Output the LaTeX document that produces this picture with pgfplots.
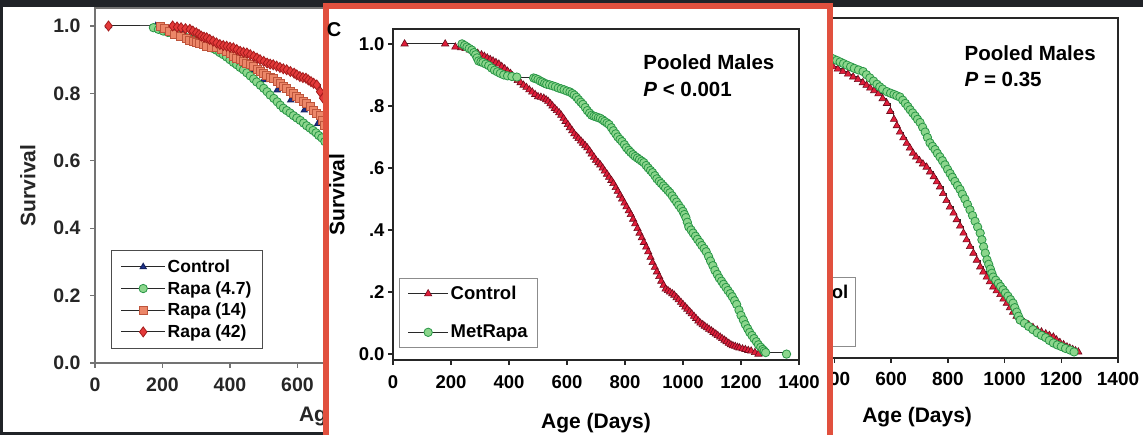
\documentclass[border=0pt]{standalone}
\usepackage{fontspec}
\setmainfont{Liberation Sans}
\usepackage{pgfplots}
\pgfplotsset{compat=1.18}
\definecolor{bgdark}{RGB}{32,35,40}
\definecolor{frameRed}{RGB}{225,80,62}
\definecolor{ctrlRed}{RGB}{225,30,58}
\definecolor{ctrlRedEdge}{RGB}{110,12,28}
\definecolor{grnFill}{RGB}{140,214,140}
\definecolor{grnEdge}{RGB}{40,150,70}
\definecolor{rA}{RGB}{228,58,58}
\definecolor{rAe}{RGB}{165,28,28}
\definecolor{rB}{RGB}{236,135,105}
\definecolor{rBe}{RGB}{190,85,60}
\definecolor{navy}{RGB}{30,50,140}
\definecolor{lineGray}{RGB}{40,40,40}

\pgfplotsset{
  kmbase/.style={
    scale only axis, anchor=south west,
    xmin=0, xmax=1400,
    axis line style={line width=1.5pt, draw=black!85},
    tick pos=left, tick align=outside,
    major tick length=5pt,
    major tick style={line width=1.5pt, draw=black!85},
    xtick={0,200,400,600,800,1000,1200,1400},
    xticklabels={0,200,400,600,800,1000,1200,1400},
    ytick={0,0.2,0.4,0.6,0.8,1},
    legend cell align=left,
    legend image code/.code={\draw[mark repeat=2,mark phase=2,##1] plot coordinates {(0pt,0pt) (20pt,0pt) (40pt,0pt)};},
  },
  ctrl/.style={const plot, line width=1pt, draw=lineGray, mark=triangle*, mark size=4.2pt, mark options={fill=ctrlRed, draw=ctrlRedEdge, line width=0.6pt, solid}},
  metr/.style={const plot, line width=1pt, draw=lineGray, mark=*, mark size=4.2pt, mark options={fill=grnFill, draw=grnEdge, line width=0.8pt, solid}},
}

\begin{document}
\begin{tikzpicture}
\useasboundingbox (0pt,0pt) rectangle (1143pt,435pt);
\fill[bgdark] (0pt,0pt) rectangle (1143pt,435pt);
\fill[white] (3pt,3pt) rectangle (326pt,428pt);
\fill[white] (830pt,0pt) rectangle (1143pt,428pt);

% ---------------- right panel (mostly hidden on the left) ----------------
\begin{axis}[kmbase, at={(721pt,77pt)}, width=397pt, height=340pt,
  ymin=-0.019, ymax=1.048,
  xticklabels={,,400,600,800,1000,1200,1400},
  yticklabels={,,,,,},
  tick label style={font=\fontsize{19}{19}\selectfont\bfseries},
  xticklabel style={yshift=-6pt},
  xlabel={Age (Days)},
  xlabel style={font=\fontsize{21}{21}\selectfont\bfseries, at={(axis description cs:0.494,-0.174)}, anchor=center},
  legend style={at={(axis description cs:0.34,0.032)}, anchor=south east, draw=black!45, line width=1.3pt, fill=white,
    font=\fontsize{18.5}{19}\selectfont\bfseries, row sep=20pt, inner xsep=5pt, inner ysep=6pt},
]
\addplot[ctrl] coordinates {
(300,0.93) (315,0.925) (330,0.92) (345,0.915) (360,0.91) (378,0.903) (395,0.895) (412,0.888) (430,0.88) (448,0.872)
(466,0.863) (483,0.855) (500,0.845) (513,0.837) (526,0.828) (540,0.82) (555,0.81) (570,0.795) (585,0.78) (597,0.755)
(610,0.73) (620,0.71) (631,0.69) (643,0.672) (655,0.655) (666,0.64) (677,0.624) (688,0.612) (700,0.6) (712,0.59)
(725,0.58) (737,0.565) (750,0.55) (761,0.534) (772,0.518) (783,0.497) (795,0.475) (807,0.455) (820,0.436) (831,0.415)
(843,0.395) (855,0.373) (866,0.352) (878,0.331) (890,0.31) (902,0.288) (914,0.267) (925,0.251) (937,0.235) (948,0.22)
(960,0.204) (972,0.192) (985,0.18) (996,0.166) (1008,0.153) (1019,0.139) (1030,0.125) (1042,0.112) (1055,0.1) (1070,0.092)
(1085,0.085) (1100,0.077) (1115,0.069) (1130,0.063) (1145,0.057) (1158,0.052) (1172,0.047) (1183,0.038) (1195,0.03) (1208,0.023)
(1220,0.016) (1230,0.012) (1240,0.008) (1250,0.004) (1260,0.0)};
\addlegendentry{Control}
\addplot[metr] coordinates {
(300,0.95) (315,0.945) (330,0.94) (345,0.935) (360,0.93) (378,0.925) (395,0.92) (408,0.915) (420,0.91) (432,0.905)
(444,0.9) (457,0.895) (470,0.89) (485,0.885) (501,0.88) (513,0.87) (525,0.86) (538,0.85) (550,0.84) (560,0.832)
(570,0.825) (585,0.817) (598,0.812) (610,0.808) (620,0.804) (631,0.8) (641,0.79) (650,0.78) (659,0.77) (667,0.76)
(676,0.75) (685,0.74) (693,0.73) (702,0.72) (711,0.705) (720,0.69) (728,0.673) (737,0.656) (746,0.645) (755,0.635)
(763,0.623) (772,0.612) (781,0.6) (790,0.587) (799,0.573) (808,0.56) (816,0.548) (825,0.535) (834,0.522) (843,0.51)
(851,0.495) (860,0.48) (869,0.463) (878,0.446) (887,0.428) (896,0.41) (905,0.392) (914,0.373) (920,0.352) (926,0.33)
(932,0.31) (938,0.289) (944,0.275) (950,0.26) (955,0.247) (960,0.235) (969,0.225) (978,0.215) (986,0.205) (995,0.195)
(1003,0.185) (1012,0.175) (1021,0.164) (1030,0.153) (1036,0.139) (1043,0.125) (1049,0.112) (1055,0.1) (1070,0.09) (1085,0.08)
(1100,0.07) (1115,0.06) (1130,0.052) (1145,0.045) (1158,0.036) (1172,0.028) (1186,0.022) (1200,0.017) (1215,0.011) (1231,0.006)
(1245,0.0)};
\addlegendentry{Met}
\node[anchor=west, font=\fontsize{20.5}{21}\selectfont\bfseries] at (axis description cs:0.605,0.897) {Pooled Males};
\node[anchor=west, font=\fontsize{20.5}{21}\selectfont\bfseries] at (axis description cs:0.605,0.818) {\itshape P\upshape{} = 0.35};
\end{axis}

% ---------------- left panel ----------------
\begin{axis}[kmbase, at={(95pt,72pt)}, width=472.5pt, height=355pt,
  ymin=0, ymax=1.0534,
  axis line style={line width=1.3pt, draw=black!55},
  major tick style={line width=1.3pt, draw=black!55},
  xticklabels={0,200,400,600,,,,},
  yticklabels={0.0,0.2,0.4,0.6,0.8,1.0},
  tick label style={font=\fontsize{19.5}{20}\selectfont\bfseries, text=black!85},
  xticklabel style={yshift=-6pt},
  yticklabel style={xshift=-6pt},
  ylabel={Survival},
  ylabel style={font=\fontsize{21}{21}\selectfont\bfseries, text=black!85, at={(axis description cs:-0.142,0.5)}, anchor=center},
  xlabel={Age (Days)},
  xlabel style={font=\fontsize{21}{21}\selectfont\bfseries, text=black!85, at={(axis description cs:0.548,-0.149)}, anchor=center},
  legend style={at={(axis description cs:0.034,0.039)}, anchor=south west, draw=black!70, line width=1.3pt, fill=white,
    font=\fontsize{17.5}{18}\selectfont\bfseries, row sep=4.5pt, inner xsep=9pt, inner ysep=8pt, nodes={inner ysep=1.5pt}},
  legend image code/.code={\draw[mark repeat=2,mark phase=2,#1] plot coordinates {(0pt,0pt) (22pt,0pt) (44pt,0pt)};},
]
\addplot[const plot, line width=1pt, draw=lineGray, mark=triangle*, mark size=3.5pt, mark options={fill=navy, draw=navy!70!black, solid}] coordinates {
(40,1.0) (180,1.0) (220,0.99) (260,0.975) (300,0.96) (340,0.94) (380,0.92) (420,0.895) (460,0.87) (500,0.84)
(540,0.81) (580,0.78) (620,0.75) (660,0.71) (700,0.68) (740,0.65)};
\addlegendentry{Control}
\addplot[const plot, line width=1pt, draw=lineGray, mark=*, mark size=4.2pt, mark options={fill=grnFill, draw=grnEdge, line width=0.8pt, solid}] coordinates {
(173,0.995) (188,0.99) (202,0.985) (216,0.981) (230,0.978) (250,0.972) (261,0.968) (272,0.965) (281,0.961) (290,0.958)
(300,0.953) (311,0.948) (323,0.944) (335,0.94) (348,0.934) (360,0.928) (370,0.921) (380,0.915) (390,0.908) (400,0.9)
(410,0.892) (420,0.885) (430,0.877) (440,0.87) (450,0.861) (460,0.852) (470,0.843) (479,0.834) (490,0.824) (500,0.815)
(510,0.805) (519,0.795) (530,0.785) (540,0.775) (549,0.765) (558,0.756) (568,0.749) (578,0.742) (588,0.734) (598,0.727)
(608,0.72) (618,0.712) (627,0.704) (637,0.697) (646,0.69) (655,0.683) (663,0.675) (672,0.668) (681,0.657) (690,0.645)
(700,0.632) (710,0.62)};
\addlegendentry{Rapa (4.7)}
\addplot[const plot, line width=1pt, draw=lineGray, mark=square*, mark size=4pt, mark options={fill=rB, draw=rBe, line width=0.8pt, solid}] coordinates {
(193,1.0) (206,0.992) (220,0.985) (236,0.976) (252,0.968) (270,0.962) (281,0.958) (291,0.955) (300,0.951) (310,0.948)
(320,0.944) (331,0.94) (345,0.937) (360,0.935) (375,0.93) (390,0.925) (400,0.918) (410,0.91) (420,0.905) (430,0.9)
(440,0.895) (450,0.89) (460,0.885) (469,0.88) (480,0.872) (490,0.865) (500,0.859) (509,0.853) (520,0.848) (530,0.843)
(539,0.836) (548,0.83) (558,0.822) (568,0.815) (578,0.807) (588,0.8) (598,0.792) (607,0.785) (617,0.777) (627,0.77)
(637,0.76) (647,0.75) (657,0.742) (667,0.735) (674,0.72) (681,0.706) (690,0.693) (700,0.68) (710,0.67) (720,0.66)};
\addlegendentry{Rapa (14)}
\addplot[const plot, line width=1pt, draw=lineGray, mark=diamond*, mark size=5pt, mark options={fill=rA, draw=rAe, line width=0.8pt, solid}] coordinates {
(40,1.0) (230,1.0) (243,0.997) (255,0.995) (268,0.992) (281,0.99) (290,0.985) (300,0.98) (308,0.975) (315,0.97)
(323,0.967) (331,0.965) (340,0.96) (350,0.955) (360,0.95) (370,0.945) (380,0.942) (390,0.94) (400,0.937) (410,0.935)
(420,0.93) (430,0.925) (440,0.922) (450,0.92) (460,0.915) (470,0.91) (480,0.905) (489,0.9) (500,0.895) (510,0.89)
(519,0.887) (528,0.885) (538,0.881) (548,0.877) (558,0.873) (568,0.87) (579,0.865) (590,0.86) (598,0.855) (607,0.85)
(616,0.847) (625,0.845) (632,0.84) (640,0.835) (648,0.83) (657,0.825) (667,0.805) (676,0.786) (688,0.773) (700,0.76)
(710,0.75) (720,0.74)};
\addlegendentry{Rapa (42)}
\end{axis}

% ---------------- middle (highlighted) panel ----------------
\draw[line width=6pt, frameRed, fill=white] (326pt,-10pt) rectangle (830pt,428.5pt);
\node[font=\fontsize{20}{20}\selectfont\bfseries] at (334pt,405pt) {C};

\begin{axis}[kmbase, at={(393pt,75pt)}, width=406pt, height=331pt,
  ymin=-0.019, ymax=1.048,
  yticklabels={0.0,.2,.4,.6,.8,1.0},
  tick label style={font=\fontsize{18.5}{19}\selectfont\bfseries},
  xticklabel style={yshift=-7pt},
  ylabel={Survival},
  ylabel style={font=\fontsize{21}{21}\selectfont\bfseries, at={(axis description cs:-0.138,0.5)}, anchor=center},
  xlabel={Age (Days)},
  xlabel style={font=\fontsize{21}{21}\selectfont\bfseries, at={(axis description cs:0.5,-0.19)}, anchor=center},
  legend style={at={(axis description cs:0.0148,0.036)}, anchor=south west, draw=black!45, line width=1.3pt, fill=white,
    font=\fontsize{18.5}{19}\selectfont\bfseries, row sep=20pt, inner xsep=8pt, inner ysep=6pt},
]
\addplot[ctrl] coordinates {
(40,1.0) (180,1.0) (215,0.99) (235,0.988) (250,0.985) (265,0.98) (280,0.975) (292,0.97) (305,0.965) (315,0.96)
(325,0.955) (335,0.95) (345,0.945) (355,0.94) (365,0.935) (375,0.927) (385,0.92) (395,0.912) (405,0.905) (412,0.897)
(420,0.89) (430,0.882) (440,0.875) (450,0.867) (460,0.86) (470,0.852) (480,0.845) (490,0.837) (500,0.83) (510,0.828)
(520,0.825) (528,0.82) (535,0.815) (543,0.807) (550,0.8) (558,0.792) (565,0.785) (573,0.778) (580,0.77) (588,0.76)
(595,0.75) (603,0.74) (610,0.73) (618,0.72) (625,0.71) (633,0.702) (640,0.695) (648,0.687) (655,0.68) (663,0.672)
(670,0.665) (678,0.655) (685,0.645) (693,0.635) (700,0.625) (708,0.617) (715,0.61) (723,0.6) (730,0.59) (738,0.58)
(745,0.57) (753,0.56) (760,0.55) (768,0.537) (775,0.525) (783,0.512) (790,0.5) (798,0.487) (805,0.475) (813,0.462)
(820,0.45) (828,0.435) (835,0.42) (843,0.405) (850,0.39) (858,0.375) (865,0.36) (873,0.345) (880,0.33) (888,0.312)
(895,0.295) (903,0.28) (910,0.265) (918,0.25) (925,0.235) (933,0.222) (940,0.21) (948,0.205) (955,0.2) (963,0.195)
(970,0.19) (978,0.182) (985,0.175) (993,0.167) (1000,0.16) (1008,0.152) (1015,0.145) (1023,0.137) (1030,0.13) (1038,0.122)
(1045,0.115) (1053,0.107) (1060,0.1) (1068,0.095) (1075,0.09) (1083,0.085) (1090,0.08) (1098,0.075) (1105,0.07) (1113,0.065)
(1120,0.06) (1128,0.055) (1135,0.05) (1143,0.045) (1150,0.04) (1158,0.035) (1165,0.03) (1172,0.027) (1180,0.025) (1188,0.022)
(1195,0.02) (1205,0.017) (1215,0.015) (1225,0.012) (1235,0.01) (1248,0.005) (1260,0.0)};
\addlegendentry{Control}
\addplot[metr] coordinates {
(238,1.0) (247,0.995) (255,0.99) (263,0.985) (272,0.98) (279,0.972) (285,0.965) (290,0.955) (295,0.945) (303,0.942)
(310,0.94) (320,0.935) (330,0.93) (340,0.922) (350,0.915) (360,0.91) (370,0.905) (382,0.9) (395,0.897) (410,0.895)
(427,0.893) (485,0.89) (492,0.888) (500,0.885) (508,0.88) (515,0.877) (523,0.873) (530,0.87) (540,0.868) (550,0.865)
(560,0.862) (570,0.858) (580,0.855) (590,0.852) (600,0.848) (610,0.845) (618,0.84) (625,0.835) (633,0.828) (640,0.82)
(648,0.812) (655,0.805) (663,0.795) (670,0.785) (678,0.777) (685,0.77) (693,0.767) (700,0.765) (708,0.762) (715,0.76)
(723,0.755) (730,0.75) (738,0.745) (745,0.74) (753,0.73) (760,0.72) (768,0.71) (775,0.7) (783,0.692) (790,0.685)
(798,0.675) (805,0.665) (813,0.657) (820,0.65) (828,0.643) (835,0.637) (843,0.632) (850,0.627) (858,0.622) (865,0.617)
(873,0.608) (880,0.6) (888,0.592) (895,0.585) (903,0.575) (910,0.565) (918,0.557) (925,0.55) (933,0.542) (940,0.535)
(948,0.527) (955,0.52) (963,0.51) (970,0.5) (978,0.49) (985,0.48) (993,0.47) (1000,0.46) (1005,0.45) (1010,0.44)
(1015,0.425) (1020,0.41) (1028,0.4) (1035,0.39) (1043,0.38) (1050,0.37) (1058,0.36) (1065,0.35) (1073,0.34) (1080,0.33)
(1088,0.315) (1095,0.3) (1103,0.285) (1110,0.27) (1118,0.257) (1125,0.245) (1133,0.235) (1140,0.225) (1148,0.215) (1155,0.205)
(1163,0.195) (1170,0.185) (1178,0.172) (1185,0.16) (1193,0.142) (1200,0.125) (1208,0.11) (1215,0.095) (1223,0.082) (1230,0.07)
(1238,0.06) (1245,0.05) (1253,0.04) (1260,0.03) (1268,0.022) (1275,0.015) (1280,0.01) (1285,0.005) (1357,0.0)};
\addlegendentry{MetRapa}
\node[anchor=west, font=\fontsize{20.5}{21}\selectfont\bfseries] at (axis description cs:0.608,0.9) {Pooled Males};
\node[anchor=west, font=\fontsize{20.5}{21}\selectfont\bfseries] at (axis description cs:0.608,0.816) {\itshape P\upshape{} < 0.001};
\end{axis}
\end{tikzpicture}
\end{document}
